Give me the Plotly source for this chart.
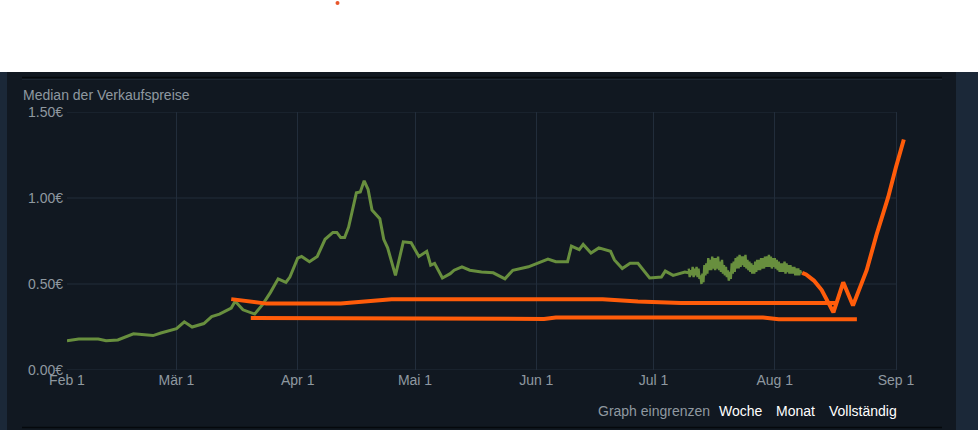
import pandas as pd
import plotly.graph_objects as go

# median sale price, daily part
green_dates = [
    "2023-02-01", "2023-02-04", "2023-02-09", "2023-02-11", "2023-02-14", "2023-02-18",
    "2023-02-23", "2023-02-25", "2023-03-01", "2023-03-03", "2023-03-05", "2023-03-08",
    "2023-03-10", "2023-03-12", "2023-03-15", "2023-03-16", "2023-03-18", "2023-03-21",
    "2023-03-23", "2023-03-25", "2023-03-27", "2023-03-29", "2023-03-30", "2023-04-01",
    "2023-04-02", "2023-04-04", "2023-04-06", "2023-04-08", "2023-04-10", "2023-04-11",
    "2023-04-12", "2023-04-13", "2023-04-14", "2023-04-16", "2023-04-17", "2023-04-18",
    "2023-04-19", "2023-04-20", "2023-04-22", "2023-04-23", "2023-04-24", "2023-04-26",
    "2023-04-28", "2023-04-30", "2023-05-02", "2023-05-04", "2023-05-05", "2023-05-06",
    "2023-05-08", "2023-05-10", "2023-05-11", "2023-05-13", "2023-05-15", "2023-05-18",
    "2023-05-21", "2023-05-24", "2023-05-26", "2023-05-28", "2023-05-30", "2023-06-04",
    "2023-06-06", "2023-06-09", "2023-06-10", "2023-06-12", "2023-06-13", "2023-06-15",
    "2023-06-17", "2023-06-20", "2023-06-21", "2023-06-23", "2023-06-25", "2023-06-27",
    "2023-06-30", "2023-07-03", "2023-07-04", "2023-07-06", "2023-07-09", "2023-07-10",
]
green_prices = [
    0.17, 0.18, 0.18, 0.17, 0.175, 0.21,
    0.20, 0.215, 0.24, 0.28, 0.25, 0.27,
    0.31, 0.325, 0.36, 0.40, 0.35, 0.325,
    0.38, 0.45, 0.53, 0.51, 0.54, 0.65,
    0.66, 0.63, 0.66, 0.76, 0.80, 0.80,
    0.77, 0.77, 0.83, 1.03, 1.035, 1.10,
    1.05, 0.93, 0.88, 0.76, 0.71, 0.55,
    0.745, 0.74, 0.66, 0.69, 0.61, 0.62,
    0.535, 0.56, 0.58, 0.60, 0.58, 0.57,
    0.565, 0.53, 0.58, 0.59, 0.60, 0.645,
    0.63, 0.63, 0.72, 0.70, 0.73, 0.68,
    0.71, 0.69, 0.64, 0.59, 0.62, 0.62,
    0.535, 0.54, 0.575, 0.55, 0.57, 0.565,
]

# recent month, four readings per day (Jul 10 .. Aug 7)
band_start = "2023-07-10"
band_prices = [
    0.59, 0.54, 0.58, 0.55,  0.60, 0.54, 0.59, 0.55,  0.60, 0.54, 0.59, 0.53,
    0.55, 0.50, 0.56, 0.51,  0.61, 0.55, 0.62, 0.56,  0.65, 0.58, 0.64, 0.58,
    0.66, 0.59, 0.65, 0.58,  0.65, 0.59, 0.66, 0.58,  0.63, 0.57, 0.64, 0.56,
    0.61, 0.55, 0.60, 0.54,  0.58, 0.52, 0.57, 0.53,  0.62, 0.56, 0.63, 0.57,
    0.65, 0.59, 0.66, 0.59,  0.67, 0.60, 0.66, 0.61,  0.66, 0.60, 0.67, 0.59,
    0.64, 0.58, 0.63, 0.57,  0.62, 0.56, 0.61, 0.56,  0.63, 0.57, 0.64, 0.58,
    0.64, 0.58, 0.65, 0.59,  0.65, 0.59, 0.66, 0.60,  0.66, 0.60, 0.67, 0.60,
    0.66, 0.59, 0.65, 0.60,  0.65, 0.59, 0.64, 0.58,  0.63, 0.57, 0.62, 0.57,
    0.62, 0.57, 0.63, 0.56,  0.62, 0.57, 0.61, 0.56,  0.61, 0.56, 0.60, 0.56,
    0.60, 0.55, 0.59, 0.55,  0.59, 0.55, 0.58, 0.56,
]

# orange series
tail_dates = [
    "2023-08-08", "2023-08-09", "2023-08-11", "2023-08-13", "2023-08-16 00:00",
    "2023-08-18 12:00", "2023-08-21", "2023-08-24 12:00", "2023-08-27", "2023-08-30",
    "2023-09-01", "2023-09-03",
]
tail_prices = [0.565, 0.555, 0.52, 0.465, 0.335, 0.51, 0.375, 0.58, 0.785, 1.005, 1.18, 1.34]

upper_dates = [
    "2023-03-15", "2023-03-19", "2023-03-24", "2023-04-12", "2023-04-20", "2023-04-25",
    "2023-06-18", "2023-06-22", "2023-06-27", "2023-07-08", "2023-08-17",
]
upper_prices = [0.412, 0.40, 0.386, 0.386, 0.40, 0.412, 0.412, 0.405, 0.398, 0.39, 0.39]

lower_dates = [
    "2023-03-20", "2023-04-20", "2023-04-25", "2023-06-03", "2023-06-06",
    "2023-07-29", "2023-08-02", "2023-08-22",
]
lower_prices = [0.302, 0.302, 0.297, 0.297, 0.305, 0.305, 0.295, 0.295]

month_ticks = ["2023-02-01", "2023-03-01", "2023-04-01", "2023-05-01",
               "2023-06-01", "2023-07-01", "2023-08-01", "2023-09-01"]
month_labels = ["Feb 1", "Mär 1", "Apr 1", "Mai 1", "Jun 1", "Jul 1", "Aug 1", "Sep 1"]
price_ticks = [0.0, 0.5, 1.0, 1.5]
price_labels = ["0.00€", "0.50€", "1.00€", "1.50€"]

W, H = 978, 430
FONT = "Liberation Sans, Arial, sans-serif"
TXT = "#8f98a0"
GRID = "#222d3b"
GREEN = "#688f3e"
ORANGE = "#ff5c0a"


def px(x):
    return x / W


def py(y):
    return (H - y) / H


band_dates = pd.date_range(band_start, periods=len(band_prices), freq="6h")

fig = go.Figure()
fig.add_trace(go.Scatter(x=green_dates, y=green_prices, mode="lines",
                         line=dict(color=GREEN, width=3)))
fig.add_trace(go.Scatter(x=band_dates, y=band_prices, mode="lines",
                         line=dict(color=GREEN, width=2.4)))
fig.add_trace(go.Scatter(x=upper_dates, y=upper_prices, mode="lines",
                         line=dict(color=ORANGE, width=4)))
fig.add_trace(go.Scatter(x=lower_dates, y=lower_prices, mode="lines",
                         line=dict(color=ORANGE, width=4)))
fig.add_trace(go.Scatter(x=tail_dates, y=tail_prices, mode="lines",
                         line=dict(color=ORANGE, width=4)))

shapes = [
    # page panels
    dict(type="rect", xref="paper", yref="paper", x0=0, x1=1, y0=0, y1=py(72),
         fillcolor="#1b2838", line_width=0, layer="below"),
    dict(type="rect", xref="paper", yref="paper", x0=px(7), x1=px(956), y0=0, y1=py(72),
         fillcolor="#111821", line_width=0, layer="below"),
    dict(type="line", xref="paper", yref="paper", x0=px(22), x1=px(942), y0=py(77.5), y1=py(77.5),
         line=dict(color="#05080c", width=1.5), layer="below"),
    dict(type="line", xref="paper", yref="paper", x0=px(22), x1=px(942), y0=py(79.5), y1=py(79.5),
         line=dict(color="#1d2632", width=1), layer="below"),
    dict(type="line", xref="paper", yref="paper", x0=px(22), x1=px(942), y0=py(427.5), y1=py(427.5),
         line=dict(color="#05080c", width=1.5), layer="below"),
    # stray dot above the panel
    dict(type="circle", xref="paper", yref="paper", x0=px(335.5), x1=px(339.5), y0=py(1), y1=py(5),
         fillcolor="#e8572c", line_width=0),
]
# horizontal grid, stopping at Sep 1
for v in price_ticks:
    shapes.append(dict(type="line", xref="x", yref="y", x0=month_ticks[0], x1=month_ticks[-1],
                       y0=v, y1=v, line=dict(color=GRID, width=1), layer="below"))

annotations = [
    dict(text="Median der Verkaufspreise", xref="paper", yref="paper", x=px(21), y=py(95),
         xanchor="left", yanchor="middle", showarrow=False,
         font=dict(family=FONT, size=14, color=TXT)),
    dict(text="Graph eingrenzen", xref="paper", yref="paper", x=px(596), y=py(411),
         xanchor="left", yanchor="middle", showarrow=False,
         font=dict(family=FONT, size=14, color=TXT)),
]
for label, x in [("Woche", 717), ("Monat", 774), ("Vollständig", 827)]:
    annotations.append(dict(text=label, xref="paper", yref="paper", x=px(x), y=py(411),
                            xanchor="left", yanchor="middle", showarrow=False,
                            font=dict(family=FONT, size=14, color="#ffffff")))

# plot spans Feb 1 .. Sep 4 so the last orange stretch is not cut at Sep 1
day_px = (896 - 67) / 212
fig.update_layout(
    width=W, height=H,
    margin=dict(l=0, r=0, t=0, b=0),
    paper_bgcolor="#ffffff",
    plot_bgcolor="rgba(0,0,0,0)",
    showlegend=False,
    hovermode=False,
    shapes=shapes,
    annotations=annotations,
    xaxis=dict(
        domain=[px(67), px(67 + 215 * day_px)],
        type="date",
        range=["2023-02-01", "2023-09-04"],
        tickvals=month_ticks, ticktext=month_labels,
        showgrid=True, gridcolor=GRID, gridwidth=1,
        zeroline=False, showline=False, ticks="", automargin=False,
        tickfont=dict(family=FONT, size=14, color=TXT),
    ),
    yaxis=dict(
        domain=[py(370), py(112)],
        range=[0, 1.5],
        tickvals=price_ticks, ticktext=price_labels, ticklabelstandoff=3,
        showgrid=False, zeroline=False, showline=False, ticks="", automargin=False,
        tickfont=dict(family=FONT, size=14, color=TXT),
    ),
)

fig.write_html(
    "out.html",
    config={"displayModeBar": False},
    post_script="document.body.style.margin='0';document.body.style.overflow='hidden';",
)
